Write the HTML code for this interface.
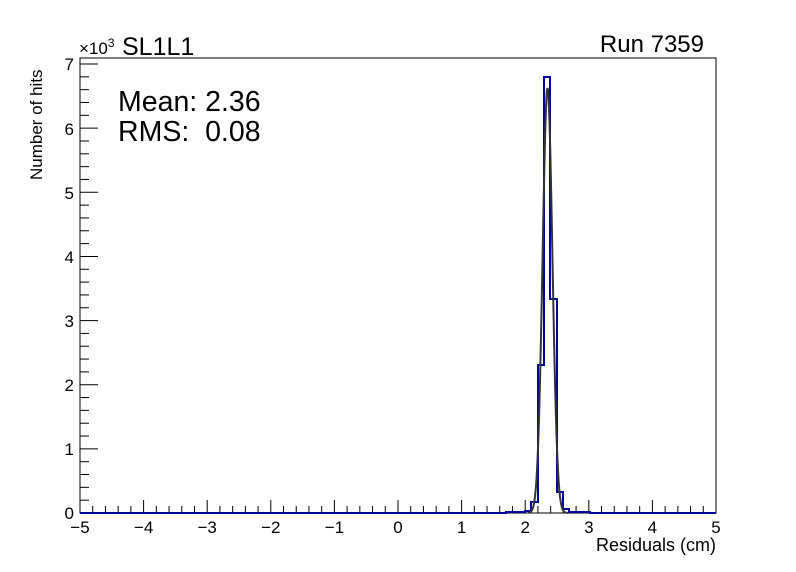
<!DOCTYPE html>
<html><head><style>
body{margin:0;background:#fff;}
svg{display:block;font-family:"Liberation Sans",sans-serif;}
</style></head><body>
<svg id="s" width="796" height="572" xmlns="http://www.w3.org/2000/svg">
<rect x="0" y="0" width="796" height="572" fill="#fff"/>
<rect x="80" y="58" width="636" height="455" fill="none" stroke="#000" stroke-width="1"/>
<g id="ticks" stroke="#000" stroke-width="1"></g>
<g font-size="17" fill="#000" text-anchor="middle">
<text x="80" y="533">−5</text><text x="143.6" y="533">−4</text><text x="207.2" y="533">−3</text>
<text x="270.8" y="533">−2</text><text x="334.4" y="533">−1</text><text x="398" y="533">0</text>
<text x="461.6" y="533">1</text><text x="525.2" y="533">2</text><text x="588.8" y="533">3</text>
<text x="652.4" y="533">4</text><text x="716" y="533">5</text>
</g>
<g font-size="17" fill="#000" text-anchor="end">
<text x="74" y="519">0</text><text x="74" y="455">1</text><text x="74" y="391">2</text>
<text x="74" y="327">3</text><text x="74" y="263">4</text><text x="74" y="199">5</text>
<text x="74" y="135">6</text><text x="74" y="70">7</text>
</g>
<text x="716" y="551" font-size="18" text-anchor="end">Residuals (cm)</text>
<text transform="translate(42,180) rotate(-90)" font-size="17" text-anchor="start">Number of hits</text>
<text x="79" y="54" font-size="17">×10<tspan font-size="12" dy="-7">3</tspan></text>
<text x="122" y="55" font-size="25">SL1L1</text>
<text x="704" y="52" font-size="24" text-anchor="end">Run 7359</text>
<text x="118" y="111" font-size="28.5">Mean: 2.36</text>
<text x="118" y="141" font-size="28.5" xml:space="preserve">RMS:  0.08</text>
<polyline fill="none" stroke="#000099" stroke-width="2" points="80,513 506,513 506,512 525,512 525,511 531,511 531,502 538,502 538,365 544,365 544,77 550,77 550,299 557,299 557,492 563,492 563,509 569,509 569,512 590,512 590,513 716,513"/>
<polyline id="fit" fill="none" stroke="#333" stroke-width="2"/>
</svg>
<script>
var g=document.getElementById('ticks'),h='';
for(var i=0;i<=50;i++){var x=80+i*12.72;var L=(i%5==0)?13:7;h+='<line x1="'+x+'" y1="513" x2="'+x+'" y2="'+(513-L)+'"/>';}
for(var i=0;i<=35;i++){var y=513-i*12.828;if(y<58)break;var L=(i%5==0)?18:9;h+='<line x1="80" y1="'+y+'" x2="'+(80+L)+'" y2="'+y+'"/>';}
g.innerHTML=h;
var p=[];for(var x=528;x<=568;x+=0.5){var v=Math.exp(-Math.pow(x-547.5,2)/(2*4.9*4.9));p.push(x+','+(513-425*v).toFixed(1));}
document.getElementById('fit').setAttribute('points',p.join(' '));
</script>
</body></html>
